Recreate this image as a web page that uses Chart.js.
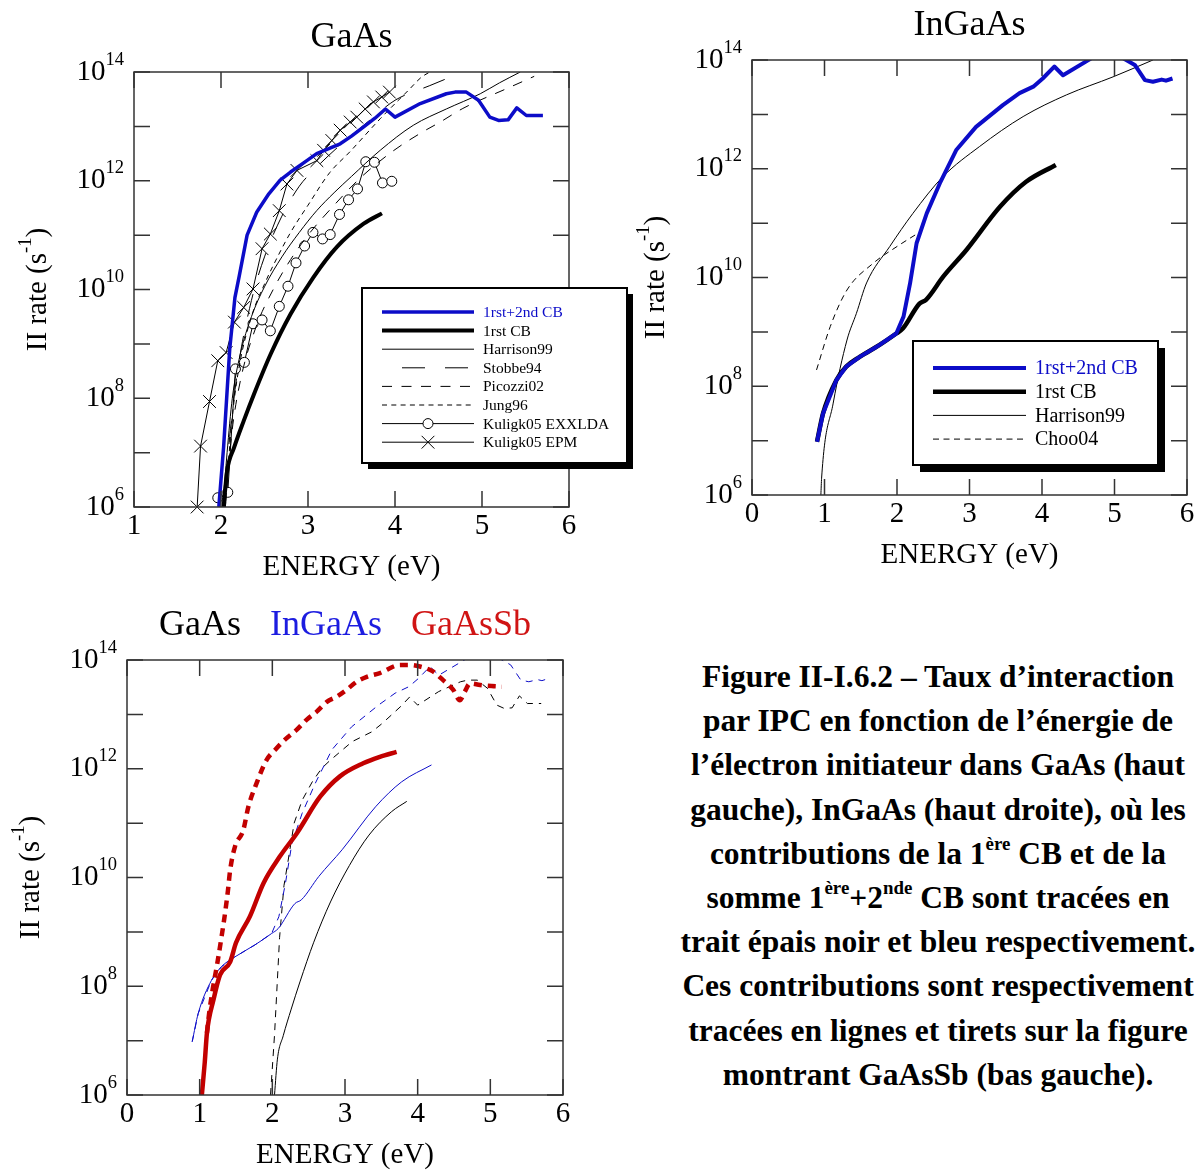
<!DOCTYPE html>
<html>
<head>
<meta charset="utf-8">
<script src="https://cdn.jsdelivr.net/npm/chart.js@4.4.1/dist/chart.umd.min.js"></script>
<style>
  html, body { margin: 0; padding: 0; background: #fff; width: 1198px; height: 1171px; overflow: hidden; }
  canvas { position: absolute; }
  #c1 { left: 0; top: 0; }
  #c2 { left: 600px; top: 0; }
  #c3 { left: 0; top: 590px; }
  #caption {
    position: absolute; left: 672px; top: 655px; width: 532px;
    text-align: center; white-space: nowrap;
    font: bold 31.5px "Liberation Serif", "Times New Roman", serif;
    line-height: 44.2px; color: #000;
  }
  #caption sup { font-size: 0.6em; line-height: 0; vertical-align: 0; position: relative; top: -0.75em; }
</style>
</head>
<body>
<canvas id="c1" width="650" height="590"></canvas>
<canvas id="c2" width="598" height="590"></canvas>
<canvas id="c3" width="600" height="581"></canvas>
<div id="caption">
Figure II-I.6.2 – Taux d’interaction<br>
par IPC en fonction de l’énergie de<br>
l’électron initiateur dans GaAs (haut<br>
gauche), InGaAs (haut droite), où les<br>
contributions de la 1<sup>ère</sup> CB et de la<br>
somme 1<sup>ère</sup>+2<sup>nde</sup> CB sont tracées en<br>
trait épais noir et bleu respectivement.<br>
Ces contributions sont respectivement<br>
tracées en lignes et tirets sur la figure<br>
montrant GaAsSb (bas gauche).
</div>
<script>
const SERIF = '"Liberation Serif", "Times New Roman", serif';
const BLUE = '#0c0cc8';
const RED  = '#c20000';
const INK  = '#000';

// ── 数据：能量 (eV) 与 log10(II rate / s^-1) ──
// GaAs
const gaasSumE   = [1.975, 2.03, 2.10, 2.16, 2.21, 2.30, 2.41, 2.55, 2.68, 2.80, 2.95, 3.10, 3.37, 3.50, 3.64, 3.77, 3.89, 4.00, 4.29, 4.59, 4.69, 4.82, 4.96, 5.09, 5.19, 5.30, 5.40, 5.51, 5.70];
const gaasSumLog = [6.0, 7.1, 8.9, 9.85, 10.25, 11.0, 11.42, 11.76, 12.01, 12.16, 12.33, 12.50, 12.68, 12.82, 12.99, 13.15, 13.32, 13.17, 13.42, 13.60, 13.63, 13.63, 13.48, 13.17, 13.11, 13.12, 13.34, 13.20, 13.20];
const gaasFirstE   = [2.03, 2.07, 2.15, 2.26, 2.38, 2.57, 2.80, 3.06, 3.33, 3.64, 3.85];
const gaasFirstLog = [6.0, 6.66, 7.09, 7.58, 8.08, 8.81, 9.55, 10.22, 10.78, 11.21, 11.40];
const harrisonE   = [2.02, 2.07, 2.13, 2.22, 2.35, 2.5, 2.7, 2.9, 3.1, 3.3, 3.5, 3.83, 4.21, 4.59, 4.98, 5.2, 5.44];
const harrisonLog = [6.0, 7.0, 8.0, 8.8, 9.5, 10.05, 10.6, 11.05, 11.45, 11.78, 12.08, 12.56, 13.02, 13.32, 13.6, 13.8, 14.0];
const stobbeE   = [2.03, 2.1, 2.2, 2.35, 2.5, 2.7, 2.9, 3.1, 3.4, 3.7, 4.0, 4.4, 4.78];
const stobbeLog = [6.0, 7.3, 8.6, 9.8, 10.6, 11.35, 11.9, 12.25, 12.7, 13.1, 13.48, 13.75, 14.0];
const picozziE   = [2.05, 2.12, 2.22, 2.4, 2.6, 2.8, 3.0, 3.3, 3.6, 3.98, 4.32, 4.52, 4.78, 5.32, 5.6];
const picozziLog = [6.0, 7.3, 8.3, 9.3, 10.0, 10.55, 11.0, 11.55, 12.05, 12.55, 12.9, 13.08, 13.33, 13.72, 13.92];
const jungE   = [2.05, 2.12, 2.2, 2.35, 2.5, 2.65, 2.8, 3.0, 3.25, 3.48, 3.83, 4.17, 4.3, 4.4];
const jungLog = [6.0, 7.5, 8.5, 9.5, 10.1, 10.6, 11.05, 11.55, 12.15, 12.53, 13.14, 13.69, 13.9, 14.0];
const exxE   = [1.963, 2.078, 2.166, 2.269, 2.368, 2.472, 2.567, 2.670, 2.770, 2.862, 2.961, 3.057, 3.167, 3.255, 3.362, 3.466, 3.569, 3.664, 3.764, 3.856, 3.963];
const exxLog = [6.17, 6.27, 8.54, 8.66, 9.37, 9.44, 9.24, 9.69, 10.06, 10.49, 10.80, 11.05, 10.93, 11.01, 11.38, 11.65, 11.85, 12.35, 12.34, 11.96, 11.99];
const epmE   = [1.726, 1.765, 1.868, 1.963, 2.059, 2.154, 2.261, 2.368, 2.472, 2.567, 2.670, 2.758, 2.873, 3.102, 3.179, 3.274, 3.370, 3.485, 3.561, 3.657, 3.752, 3.848, 3.936];
const epmLog = [6.0, 7.12, 7.94, 8.69, 8.84, 9.40, 9.67, 10.01, 10.75, 11.02, 11.45, 11.94, 12.19, 12.37, 12.56, 12.74, 12.93, 13.08, 13.17, 13.32, 13.45, 13.54, 13.63];

// InGaAs
const ingaasSumE   = [0.897, 0.98, 1.163, 1.30, 1.485, 1.76, 1.99, 2.09, 2.18, 2.27, 2.41, 2.59, 2.82, 3.09, 3.46, 3.69, 3.88, 4.01, 4.17, 4.29, 4.68, 4.9, 5.12, 5.28, 5.42, 5.53, 5.65, 5.71, 5.80];
const ingaasSumLog = [6.98, 7.50, 8.11, 8.36, 8.54, 8.76, 8.97, 9.28, 9.89, 10.63, 11.18, 11.73, 12.35, 12.77, 13.17, 13.39, 13.51, 13.66, 13.88, 13.72, 14.03, 14.2, 14.03, 13.91, 13.63, 13.60, 13.64, 13.62, 13.66];
const ingaasFirstE   = [0.897, 0.98, 1.163, 1.30, 1.485, 1.76, 1.99, 2.08, 2.31, 2.40, 2.64, 2.96, 3.42, 3.78, 4.19];
const ingaasFirstLog = [6.98, 7.50, 8.11, 8.36, 8.54, 8.76, 8.97, 9.06, 9.52, 9.59, 10.02, 10.51, 11.30, 11.76, 12.07];
const harrisonInE   = [0.95, 0.96, 1.12, 1.31, 1.44, 1.58, 1.90, 2.22, 2.63, 3.14, 3.74, 4.34, 4.98, 5.53];
const harrisonInLog = [6.0, 6.31, 7.69, 8.85, 9.34, 9.90, 10.57, 11.18, 11.85, 12.41, 12.96, 13.36, 13.69, 14.0];
const chooE   = [0.89, 1.08, 1.31, 1.67, 2.0, 2.32];
const chooLog = [8.30, 9.10, 9.77, 10.26, 10.57, 10.84];

// GaAsSb
const gaassbFirstE   = [1.03, 1.07, 1.10, 1.19, 1.28, 1.42, 1.50, 1.69, 1.88, 2.10, 2.34, 2.66, 2.93, 3.25, 3.48, 3.71];
const gaassbFirstLog = [6.0, 6.6, 7.14, 7.75, 8.21, 8.45, 8.8, 9.28, 9.90, 10.38, 10.82, 11.49, 11.86, 12.10, 12.22, 12.31];
const gaassbSumE   = [1.10, 1.13, 1.18, 1.24, 1.30, 1.35, 1.39, 1.42, 1.486, 1.60, 1.67, 1.785, 1.92, 2.04, 2.17, 2.33, 2.47, 2.61, 2.75, 2.89, 3.02, 3.16, 3.30, 3.48, 3.76, 3.89, 4.03, 4.21, 4.35, 4.49, 4.58, 4.65, 4.72, 4.86, 5.02, 5.16];
const gaassbSumLog = [7.14, 7.5, 7.95, 8.4, 8.9, 9.35, 9.77, 10.14, 10.57, 10.87, 11.30, 11.74, 12.16, 12.35, 12.53, 12.71, 12.90, 13.05, 13.23, 13.33, 13.45, 13.60, 13.69, 13.76, 13.91, 13.91, 13.88, 13.79, 13.63, 13.45, 13.26, 13.42, 13.57, 13.54, 13.52, 13.51];

// 刻度
const gaasEnergyTicks = [1, 2, 3, 4, 5, 6];
const energyTicks     = [0, 1, 2, 3, 4, 5, 6];
const decadeTicks     = [6, 7, 8, 9, 10, 11, 12, 13, 14];
const labelDecades    = [6, 8, 10, 12, 14];
const xTitle = 'ENERGY (eV)';
const yTitle = [['II rate (s', 0], ['-1', 1], [')', 0]];

const pts = (es, ls) => es.map((e, i) => ({ x: e, y: Math.pow(10, ls[i]) }));

function series(label, es, ls, style) {
  return Object.assign({
    label, data: pts(es, ls), showLine: true, fill: false,
    pointRadius: 0, borderColor: INK, borderWidth: 1, clip: 0,
    borderCapStyle: 'butt', borderJoinStyle: 'round',
  }, style);
}

// 上标文字
function richWidth(ctx, parts, size) {
  let w = 0;
  parts.forEach(([t, sup]) => { ctx.font = `${sup ? size * 0.64 : size}px ${SERIF}`; w += ctx.measureText(t).width; });
  return w;
}
function drawRich(ctx, parts, x, y, size, align) {
  const w = richWidth(ctx, parts, size);
  let cx = align === 'right' ? x - w : align === 'center' ? x - w / 2 : x;
  ctx.textAlign = 'left';
  ctx.textBaseline = 'middle';
  parts.forEach(([t, sup]) => {
    ctx.font = `${sup ? size * 0.64 : size}px ${SERIF}`;
    ctx.fillText(t, cx, sup ? y - size * 0.42 : y);
    cx += ctx.measureText(t).width;
  });
}

function drawLegend(chart, lg) {
  const { ctx } = chart;
  ctx.fillStyle = '#000';
  ctx.fillRect(lg.x + lg.shadow, lg.y + lg.shadow, lg.w, lg.h);
  ctx.fillStyle = '#fff';
  ctx.fillRect(lg.x, lg.y, lg.w, lg.h);
  ctx.lineWidth = 2;
  ctx.strokeStyle = '#000';
  ctx.strokeRect(lg.x, lg.y, lg.w, lg.h);
  chart.data.datasets.forEach((ds, i) => {
    const yy = lg.y + lg.first + i * lg.row;
    const x0 = lg.x + lg.pad, x1 = x0 + lg.len;
    ctx.save();
    ctx.strokeStyle = ds.borderColor;
    ctx.lineWidth = ds.borderWidth;
    ctx.setLineDash(ds.borderDash || []);
    ctx.lineDashOffset = ds.borderDashOffset || 0;
    ctx.beginPath(); ctx.moveTo(x0, yy); ctx.lineTo(x1, yy); ctx.stroke();
    ctx.setLineDash([]);
    if (ds.pointStyle) {
      ctx.fillStyle = '#fff';
      ctx.strokeStyle = '#000';
      ctx.lineWidth = 1;
      Chart.helpers.drawPoint(ctx, { pointStyle: ds.pointStyle, radius: ds.pointRadius, rotation: 0, borderWidth: 1 }, (x0 + x1) / 2, yy);
    }
    ctx.fillStyle = ds.borderColor;
    ctx.font = `${lg.font}px ${SERIF}`;
    ctx.textAlign = 'left';
    ctx.textBaseline = 'middle';
    ctx.fillText(ds.label, lg.x + lg.textX, yy + 1);
    ctx.restore();
  });
}

const TICK = 16;
const figurePlugin = {
  id: 'figure',
  afterDatasetsDraw(chart, args, o) {
    const { ctx, chartArea: a, scales: { x, y } } = chart;
    ctx.save();
    // 边框与内向刻度
    ctx.strokeStyle = '#333';
    ctx.lineWidth = 1.5;
    ctx.strokeRect(a.left, a.top, a.width, a.height);
    ctx.beginPath();
    o.xTicks.forEach(v => {
      const px = x.getPixelForValue(v);
      ctx.moveTo(px, a.bottom); ctx.lineTo(px, a.bottom - TICK);
      ctx.moveTo(px, a.top);    ctx.lineTo(px, a.top + TICK);
    });
    decadeTicks.forEach(d => {
      const py = y.getPixelForValue(Math.pow(10, d));
      ctx.moveTo(a.left, py);  ctx.lineTo(a.left + TICK, py);
      ctx.moveTo(a.right, py); ctx.lineTo(a.right - TICK, py);
    });
    ctx.stroke();

    // 刻度标签
    ctx.fillStyle = '#000';
    ctx.font = `29px ${SERIF}`;
    ctx.textAlign = 'center';
    ctx.textBaseline = 'middle';
    o.xTicks.forEach(v => ctx.fillText(String(v), x.getPixelForValue(v), a.bottom + 19));
    labelDecades.forEach(d => {
      drawRich(ctx, [['10', 0], [String(d), 1]], a.left - 10, y.getPixelForValue(Math.pow(10, d)), 29, 'right');
    });

    // 轴标题
    ctx.fillStyle = '#000';
    ctx.font = `29px ${SERIF}`;
    ctx.textAlign = 'center';
    ctx.textBaseline = 'middle';
    ctx.fillText(xTitle, (a.left + a.right) / 2, a.bottom + 60);
    ctx.save();
    ctx.translate(a.left - 96, (a.top + a.bottom) / 2);
    ctx.rotate(-Math.PI / 2);
    drawRich(ctx, yTitle, 0, 0, 29, 'center');
    ctx.restore();

    // 图标题（可多色）
    ctx.font = `36px ${SERIF}`;
    const gap = 29;
    const widths = o.title.map(t => ctx.measureText(t.text).width);
    const total = widths.reduce((s, w) => s + w, 0) + gap * (o.title.length - 1);
    let tx = (a.left + a.right) / 2 - total / 2;
    ctx.textAlign = 'left';
    o.title.forEach((t, i) => {
      ctx.fillStyle = t.color;
      ctx.fillText(t.text, tx, a.top - 34);
      tx += widths[i] + gap;
    });

    if (o.legend) drawLegend(chart, o.legend);
    ctx.restore();
  },
};

function makeChart(id, xMin, xMax, datasets, fig) {
  return new Chart(document.getElementById(id), {
    type: 'scatter',
    data: { datasets },
    options: {
      responsive: false,
      animation: false,
      events: [],
      layout: { padding: fig.pad },
      plugins: { legend: { display: false }, tooltip: { enabled: false }, figure: fig },
      scales: {
        x: { type: 'linear', min: xMin, max: xMax, display: false },
        y: { type: 'logarithmic', min: 1e6, max: 1e14, display: false },
      },
    },
    plugins: [figurePlugin],
  });
}

// ── 图 1：GaAs ──
makeChart('c1', 1, 6, [
  series('1rst+2nd CB', gaasSumE, gaasSumLog, { borderColor: BLUE, borderWidth: 3.5 }),
  series('1rst CB', gaasFirstE, gaasFirstLog, { borderWidth: 4, cubicInterpolationMode: 'monotone' }),
  series('Harrison99', harrisonE, harrisonLog, { cubicInterpolationMode: 'monotone' }),
  series('Stobbe94', stobbeE, stobbeLog, { borderDash: [23, 20], borderDashOffset: 23, cubicInterpolationMode: 'monotone' }),
  series('Picozzi02', picozziE, picozziLog, { borderDash: [10, 9.5], cubicInterpolationMode: 'monotone' }),
  series('Jung96', jungE, jungLog, { borderDash: [5, 4.3], cubicInterpolationMode: 'monotone' }),
  series('Kuligk05 EXXLDA', exxE, exxLog, {
    pointRadius: 5, pointStyle: 'circle', pointBackgroundColor: '#fff', pointBorderColor: INK, pointBorderWidth: 1,
    clip: { left: 12, top: 0, right: 0, bottom: 12 },
  }),
  series('Kuligk05 EPM', epmE, epmLog, {
    pointRadius: 9, pointStyle: 'crossRot', pointBorderColor: INK, pointBorderWidth: 1,
    clip: { left: 12, top: 0, right: 0, bottom: 12 },
  }),
], {
  pad: { left: 134, top: 72, right: 81, bottom: 83 },
  xTicks: gaasEnergyTicks,
  title: [{ text: 'GaAs', color: INK }],
  legend: { x: 362, y: 288, w: 265, h: 175, shadow: 6, first: 24, row: 18.6, pad: 20, len: 92, textX: 121, font: 15.5 },
});

// ── 图 2：InGaAs ──
makeChart('c2', 0, 6, [
  series('1rst+2nd CB', ingaasSumE, ingaasSumLog, { borderColor: BLUE, borderWidth: 4 }),
  series('1rst CB', ingaasFirstE, ingaasFirstLog, { borderWidth: 4.5, cubicInterpolationMode: 'monotone' }),
  series('Harrison99', harrisonInE, harrisonInLog, { cubicInterpolationMode: 'monotone' }),
  series('Choo04', chooE, chooLog, { borderDash: [6, 4.5], cubicInterpolationMode: 'monotone' }),
], {
  pad: { left: 152, top: 60, right: 11, bottom: 95 },
  xTicks: energyTicks,
  title: [{ text: 'InGaAs', color: INK }],
  legend: { x: 313, y: 341, w: 245, h: 124, shadow: 7, first: 27, row: 23.7, pad: 20, len: 93, textX: 122, font: 20 },
});

// ── 图 3：GaAs / InGaAs / GaAsSb ──
makeChart('c3', 0, 6, [
  series('GaAsSb 1rst+2nd CB', gaassbSumE, gaassbSumLog, { borderColor: RED, borderWidth: 4.5, borderDash: [8, 6], cubicInterpolationMode: 'monotone' }),
  series('GaAsSb 1rst CB', gaassbFirstE, gaassbFirstLog, { borderColor: RED, borderWidth: 4.5, cubicInterpolationMode: 'monotone' }),
  series('InGaAs 1rst+2nd CB', ingaasSumE, ingaasSumLog, { borderColor: BLUE, borderDash: [7, 6] }),
  series('InGaAs 1rst CB', ingaasFirstE, ingaasFirstLog, { borderColor: BLUE, cubicInterpolationMode: 'monotone' }),
  series('GaAs 1rst+2nd CB', gaasSumE, gaasSumLog, { borderDash: [7, 6] }),
  series('GaAs 1rst CB', gaasFirstE, gaasFirstLog, { cubicInterpolationMode: 'monotone' }),
], {
  pad: { left: 127, top: 70, right: 37, bottom: 76 },
  xTicks: energyTicks,
  title: [{ text: 'GaAs', color: INK }, { text: 'InGaAs', color: '#1c1ce0' }, { text: 'GaAsSb', color: '#d01414' }],
});
</script>
</body>
</html>
